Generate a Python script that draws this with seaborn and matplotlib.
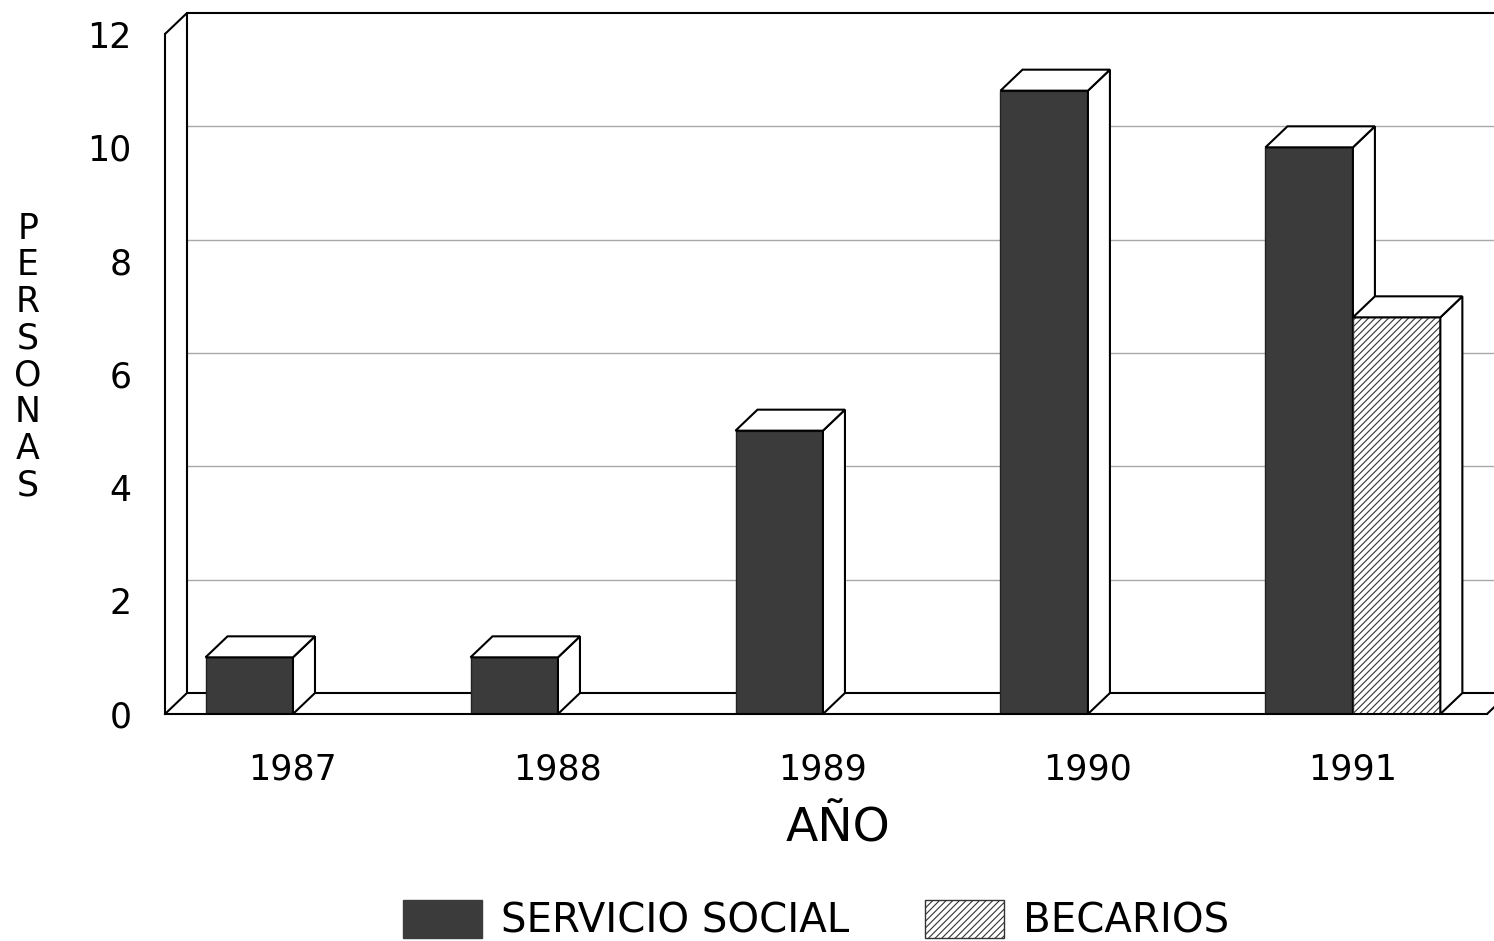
import numpy as np
import pandas as pd
import matplotlib
matplotlib.use('Agg')
import matplotlib.pyplot as plt
from matplotlib.patches import Polygon, Patch
import seaborn as sns

# Datos
years = ['1987', '1988', '1989', '1990', '1991']
servicio_social = [1, 1, 5, 11, 10]
becarios = [0, 0, 0, 0, 7]
series_names = ['SERVICIO SOCIAL', 'BECARIOS']
y_ticks = [0, 2, 4, 6, 8, 10, 12]

df = pd.DataFrame({
    'año': years * 2,
    'personas': servicio_social + becarios,
    'tipo': [series_names[0]] * len(years) + [series_names[1]] * len(years),
})

sns.set_style('white')
plt.rcParams['font.family'] = ['DejaVu Sans']
plt.rcParams['text.color'] = 'black'
plt.rcParams['xtick.color'] = 'black'
plt.rcParams['ytick.color'] = 'black'
plt.rcParams['axes.labelcolor'] = 'black'
plt.rcParams['hatch.linewidth'] = 0.8

DARK = '#3b3b3b'
DX, DY = 22, 21  # profundidad del efecto 3D (pixeles)
HATCH = '/////'

fig = plt.figure(figsize=(14.94, 9.41), dpi=100)
ax = fig.add_axes([165 / 1494, 1 - 714 / 941, (1487 - 165) / 1494, (714 - 34) / 941])

sns.barplot(data=df, x='año', y='personas', hue='tipo', palette=[DARK, 'white'],
            width=0.66, saturation=1, legend=False, ax=ax)
ax.set_xlim(-0.483, 4.506)
ax.set_ylim(0, 12)

# desplazamiento 3D en unidades de datos
p0 = ax.transData.transform((0, 0))
p1 = ax.transData.inverted().transform(p0 + np.array([DX, DY]))
ddx, ddy = p1[0], p1[1]
x0, x1 = ax.get_xlim()

# pared del fondo
for v in y_ticks[1:-1]:
    ax.plot([x0 + ddx, x1 + ddx], [v + ddy, v + ddy], color='#a8a8a8', lw=1, zorder=0.5, clip_on=False)
kw = dict(color='black', lw=1.5, zorder=0.6, clip_on=False)
ax.plot([x0 + ddx, x1 + ddx], [12 + ddy, 12 + ddy], **kw)
ax.plot([x0 + ddx, x1 + ddx], [ddy, ddy], **kw)
ax.plot([x0 + ddx, x0 + ddx], [ddy, 12 + ddy], **kw)
ax.plot([x0, x0 + ddx], [0, ddy], **kw)
ax.plot([x0, x0 + ddx], [12, 12 + ddy], **kw)
ax.plot([x1, x1 + ddx], [0, ddy], **kw)

# barras en 3D
n = len(years)
for i, p in enumerate(ax.patches):
    level = i // n
    h = p.get_height()
    if h == 0:
        p.set_visible(False)
        continue
    z = 2 + level
    p.set_zorder(z)
    p.set_linewidth(1)
    if level == 1:
        p.set_facecolor('white')
        p.set_edgecolor('#333333')
        p.set_hatch(HATCH)
    else:
        p.set_edgecolor('#222222')
    xl = p.get_x()
    xr = xl + p.get_width()
    top = Polygon([(xl, h), (xr, h), (xr + ddx, h + ddy), (xl + ddx, h + ddy)],
                  facecolor='white', edgecolor='black', lw=1.5, zorder=z + 0.1, clip_on=False)
    side = Polygon([(xr, 0), (xr, h), (xr + ddx, h + ddy), (xr + ddx, ddy)],
                   facecolor='white', edgecolor='black', lw=1.5, zorder=z + 0.1, clip_on=False)
    ax.add_patch(side)
    ax.add_patch(top)

# ejes
sns.despine(ax=ax, top=True, right=True)
for s in ['left', 'bottom']:
    ax.spines[s].set_color('black')
    ax.spines[s].set_linewidth(1.5)
    ax.spines[s].set_zorder(5)
ax.set_yticks(y_ticks)
ax.tick_params(axis='y', length=14, width=1.2, pad=10, labelsize=25)
ax.tick_params(axis='x', length=12, width=1.2, pad=16, labelsize=25)
ax.set_ylabel('')
ax.set_xlabel('AÑO', fontsize=34)
ax.xaxis.set_label_coords((838 - 165) / 1322, -(806 - 714) / 680)

fig.text(28 / 1494, 1 - 357 / 941, '\n'.join('PERSONAS'), ha='center', va='center',
         fontsize=25, linespacing=1.1)

handles = [Patch(facecolor=DARK, edgecolor=DARK),
           Patch(facecolor='white', edgecolor='#333333', hatch=HATCH)]
fig.legend(handles, series_names, loc='center', bbox_to_anchor=(816 / 1494, 1 - 921 / 941),
           ncol=2, frameon=False, fontsize=29, handlelength=1.95, handleheight=1.05,
           handletextpad=0.47, columnspacing=1.9)

fig.savefig('out.png', dpi=100)
